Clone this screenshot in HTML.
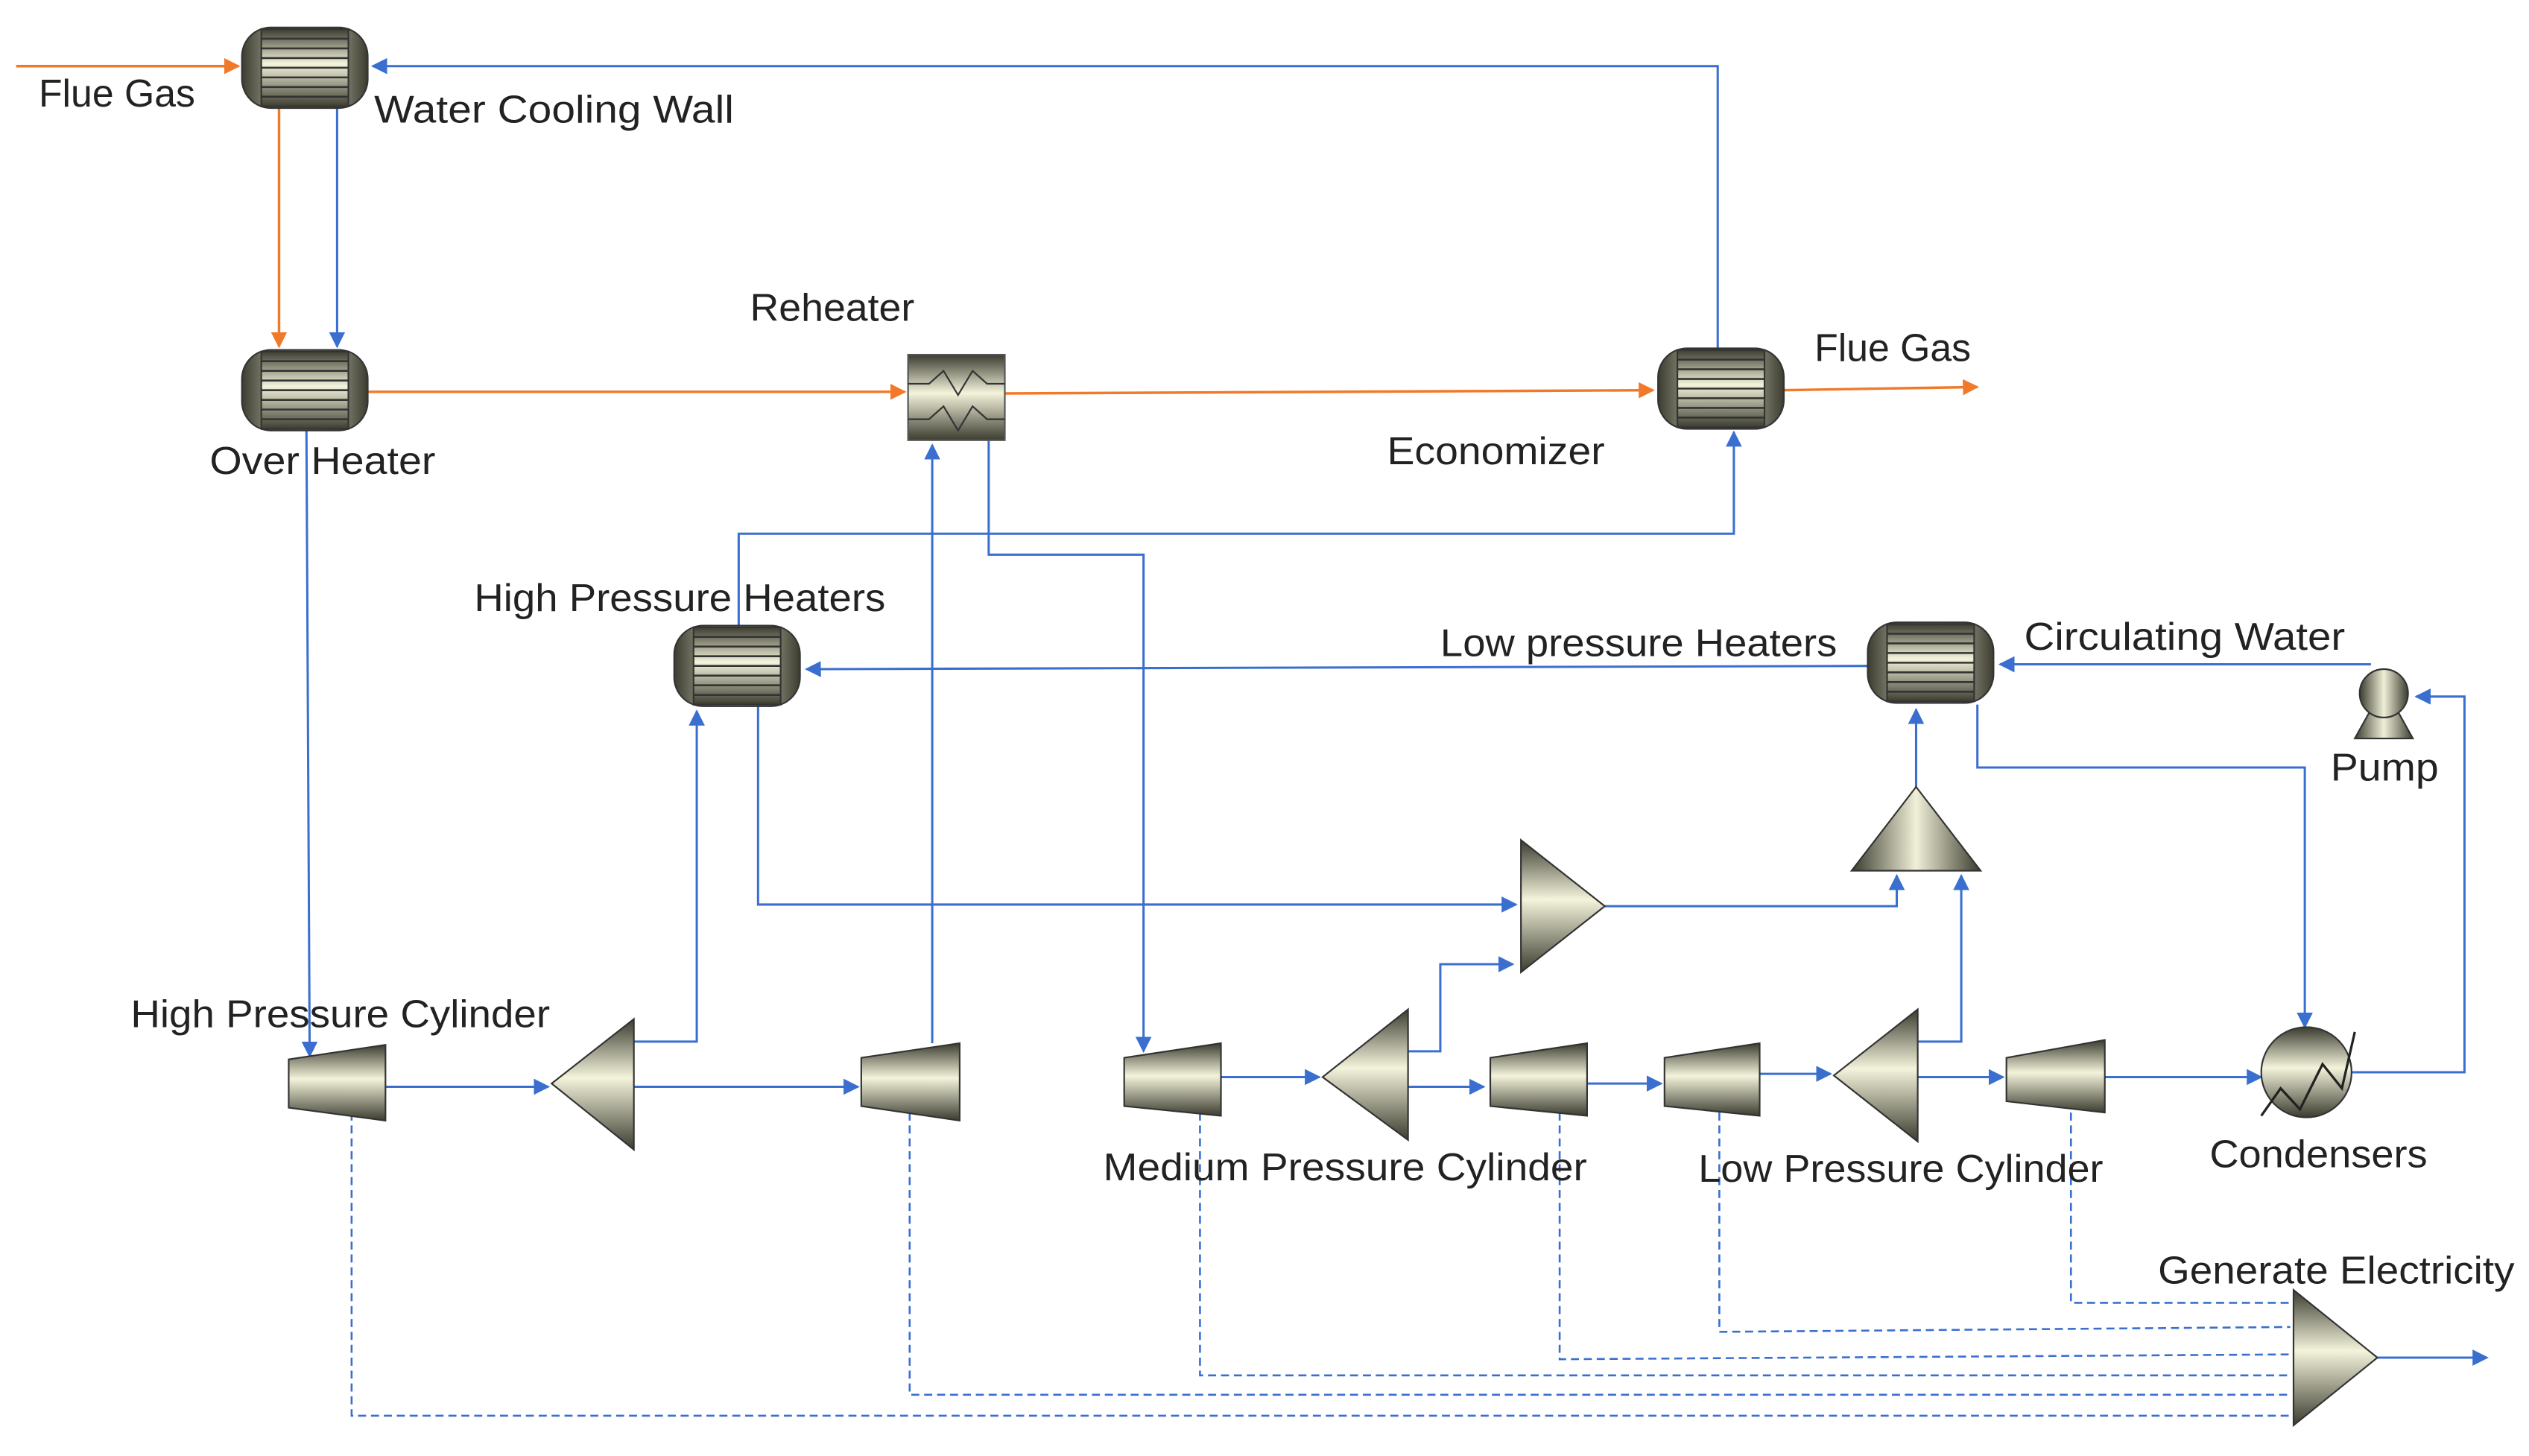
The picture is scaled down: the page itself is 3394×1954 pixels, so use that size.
<!DOCTYPE html>
<html><head><meta charset="utf-8"><style>html,body{margin:0;padding:0;background:#fff}svg{display:block}</style></head><body>
<svg width="3394" height="1954" viewBox="0 0 1568 903" preserveAspectRatio="none" xmlns="http://www.w3.org/2000/svg" font-family="Liberation Sans, sans-serif" font-size="24" fill="#222">
<defs>
<linearGradient id="g" x1="0" y1="0" x2="0" y2="1"><stop offset="0" stop-color="#3c3c30"/><stop offset="0.45" stop-color="#f4f4dc"/><stop offset="1" stop-color="#3c3c30"/></linearGradient>
<linearGradient id="gh" x1="0" y1="0" x2="1" y2="0"><stop offset="0" stop-color="#3c3c30"/><stop offset="0.5" stop-color="#f0f0d8"/><stop offset="1" stop-color="#3c3c30"/></linearGradient>
<marker id="ab" markerWidth="10" markerHeight="10" refX="9" refY="5" orient="auto" markerUnits="userSpaceOnUse"><path d="M0,0 L10,5 L0,10 Z" fill="#3a6fd0"/></marker>
<marker id="ao" markerWidth="10" markerHeight="10" refX="9" refY="5" orient="auto" markerUnits="userSpaceOnUse"><path d="M0,0 L10,5 L0,10 Z" fill="#f07a2a"/></marker>
<g id="hx"><rect x="0" y="0" width="78" height="50" rx="18" fill="url(#gh)" stroke="#333"/><rect x="12" y="1" width="54" height="48" fill="url(#g)" stroke="#333"/>
<path d="M12,7H66M12,13H66M12,19H66M12,25H66M12,31H66M12,37H66M12,43H66" stroke="#333" stroke-width="1.2"/></g>
</defs>
<g fill="none" stroke="#f07a2a" stroke-width="1.6">
<path d="M10,41H148" marker-end="url(#ao)"/>
<path d="M173,66V215" marker-end="url(#ao)"/>
<path d="M228,243H561" marker-end="url(#ao)"/>
<path d="M623,244L1025,242" marker-end="url(#ao)"/>
<path d="M1105,242L1226,240" marker-end="url(#ao)"/>
</g>
<g fill="none" stroke="#3a6fd0" stroke-width="1.4">
<path d="M1065,216V41H231" marker-end="url(#ab)"/>
<path d="M209,66V215" marker-end="url(#ab)"/>
<path d="M190,267L192,655" marker-end="url(#ab)"/>
<path d="M239,674H340" marker-end="url(#ab)"/>
<path d="M393,674H532" marker-end="url(#ab)"/>
<path d="M393,646H432V441" marker-end="url(#ab)"/>
<path d="M578,647V276" marker-end="url(#ab)"/>
<path d="M613,273V344H709V652" marker-end="url(#ab)"/>
<path d="M458,388V331H1075V268" marker-end="url(#ab)"/>
<path d="M1158,413L500,415" marker-end="url(#ab)"/>
<path d="M470,438V561H940" marker-end="url(#ab)"/>
<path d="M995,562H1176V543" marker-end="url(#ab)"/>
<path d="M873,652H893V598H938" marker-end="url(#ab)"/>
<path d="M757,668L818,668" marker-end="url(#ab)"/>
<path d="M873,674H920" marker-end="url(#ab)"/>
<path d="M984,672H1030" marker-end="url(#ab)"/>
<path d="M1091,666H1135" marker-end="url(#ab)"/>
<path d="M1189,646H1216V543" marker-end="url(#ab)"/>
<path d="M1189,668H1242" marker-end="url(#ab)"/>
<path d="M1305,668H1402" marker-end="url(#ab)"/>
<path d="M1188,488V440" marker-end="url(#ab)"/>
<path d="M1226,437V476H1429V637" marker-end="url(#ab)"/>
<path d="M1458,665H1528V432H1498" marker-end="url(#ab)"/>
<path d="M1470,412H1240" marker-end="url(#ab)"/>
<path d="M1474,842H1542" marker-end="url(#ab)"/>
</g>
<g fill="none" stroke="#3a6fd0" stroke-width="1.2" stroke-dasharray="5,3">
<path d="M218,690V878H1420"/>
<path d="M564,690V865H1420"/>
<path d="M744,690V853H1420"/>
<path d="M967,690V843L1420,840"/>
<path d="M1066,690V826L1420,823"/>
<path d="M1284,690V808H1420"/>
</g>
<use href="#hx" x="150" y="17"/>
<use href="#hx" x="150" y="217"/>
<use href="#hx" x="1028" y="216"/>
<use href="#hx" x="418" y="388"/>
<use href="#hx" x="1158" y="386"/>
<rect x="563" y="220" width="60" height="53" fill="url(#g)" stroke="#555"/>
<path d="M563,238H576L585,230L594,245L603,230L612,238H623M563,260H576L585,252L594,267L603,252L612,260H623" fill="none" stroke="#333"/>
<g fill="url(#g)" stroke="#333" stroke-width="1">
<path d="M179,657L239,648V695L179,687Z"/>
<path d="M534,656L595,647V695L534,686Z"/>
<path d="M697,656L757,647V692L697,686Z"/>
<path d="M924,656L984,647V692L924,686Z"/>
<path d="M1032,656L1091,647V692L1032,686Z"/>
<path d="M1244,656L1305,645V690L1244,683Z"/>
<path d="M342,672L393,632V713Z"/>
<path d="M820,668L873,626V707Z"/>
<path d="M1137,667L1189,626V708Z"/>
<path d="M995,562L943,521V603Z"/>
<path d="M1474,842L1422,800V884Z"/>
</g>
<path d="M1188,488L1148,540H1228Z" fill="url(#gh)" stroke="#333"/>
<circle cx="1430" cy="665" r="28" fill="url(#g)" stroke="#333"/>
<path d="M1402,692L1414,675L1426,688L1440,660L1452,675L1460,640" fill="none" stroke="#222" stroke-width="1.5"/>
<path d="M1460,458L1470,440H1486L1496,458Z" fill="url(#gh)" stroke="#333"/>
<circle cx="1478" cy="430" r="15" fill="url(#gh)" stroke="#333"/>
<g lengthAdjust="spacingAndGlyphs">
<text x="24" y="66" textLength="97" lengthAdjust="spacingAndGlyphs">Flue Gas</text>
<text x="232" y="76" textLength="223" lengthAdjust="spacingAndGlyphs">Water Cooling Wall</text>
<text x="465" y="199" textLength="102" lengthAdjust="spacingAndGlyphs">Reheater</text>
<text x="1125" y="224" textLength="97" lengthAdjust="spacingAndGlyphs">Flue Gas</text>
<text x="130" y="294" textLength="140" lengthAdjust="spacingAndGlyphs">Over Heater</text>
<text x="860" y="288" textLength="135" lengthAdjust="spacingAndGlyphs">Economizer</text>
<text x="294" y="379" textLength="255" lengthAdjust="spacingAndGlyphs">High Pressure Heaters</text>
<text x="893" y="407" textLength="246" lengthAdjust="spacingAndGlyphs">Low pressure Heaters</text>
<text x="1255" y="403" textLength="199" lengthAdjust="spacingAndGlyphs">Circulating Water</text>
<text x="1445" y="484" textLength="67" lengthAdjust="spacingAndGlyphs">Pump</text>
<text x="81" y="637" textLength="260" lengthAdjust="spacingAndGlyphs">High Pressure Cylinder</text>
<text x="684" y="732" textLength="300" lengthAdjust="spacingAndGlyphs">Medium Pressure Cylinder</text>
<text x="1053" y="733" textLength="251" lengthAdjust="spacingAndGlyphs">Low Pressure Cylinder</text>
<text x="1370" y="724" textLength="135" lengthAdjust="spacingAndGlyphs">Condensers</text>
<text x="1338" y="796" textLength="221" lengthAdjust="spacingAndGlyphs">Generate Electricity</text>
</g>
</svg>
</body></html>
